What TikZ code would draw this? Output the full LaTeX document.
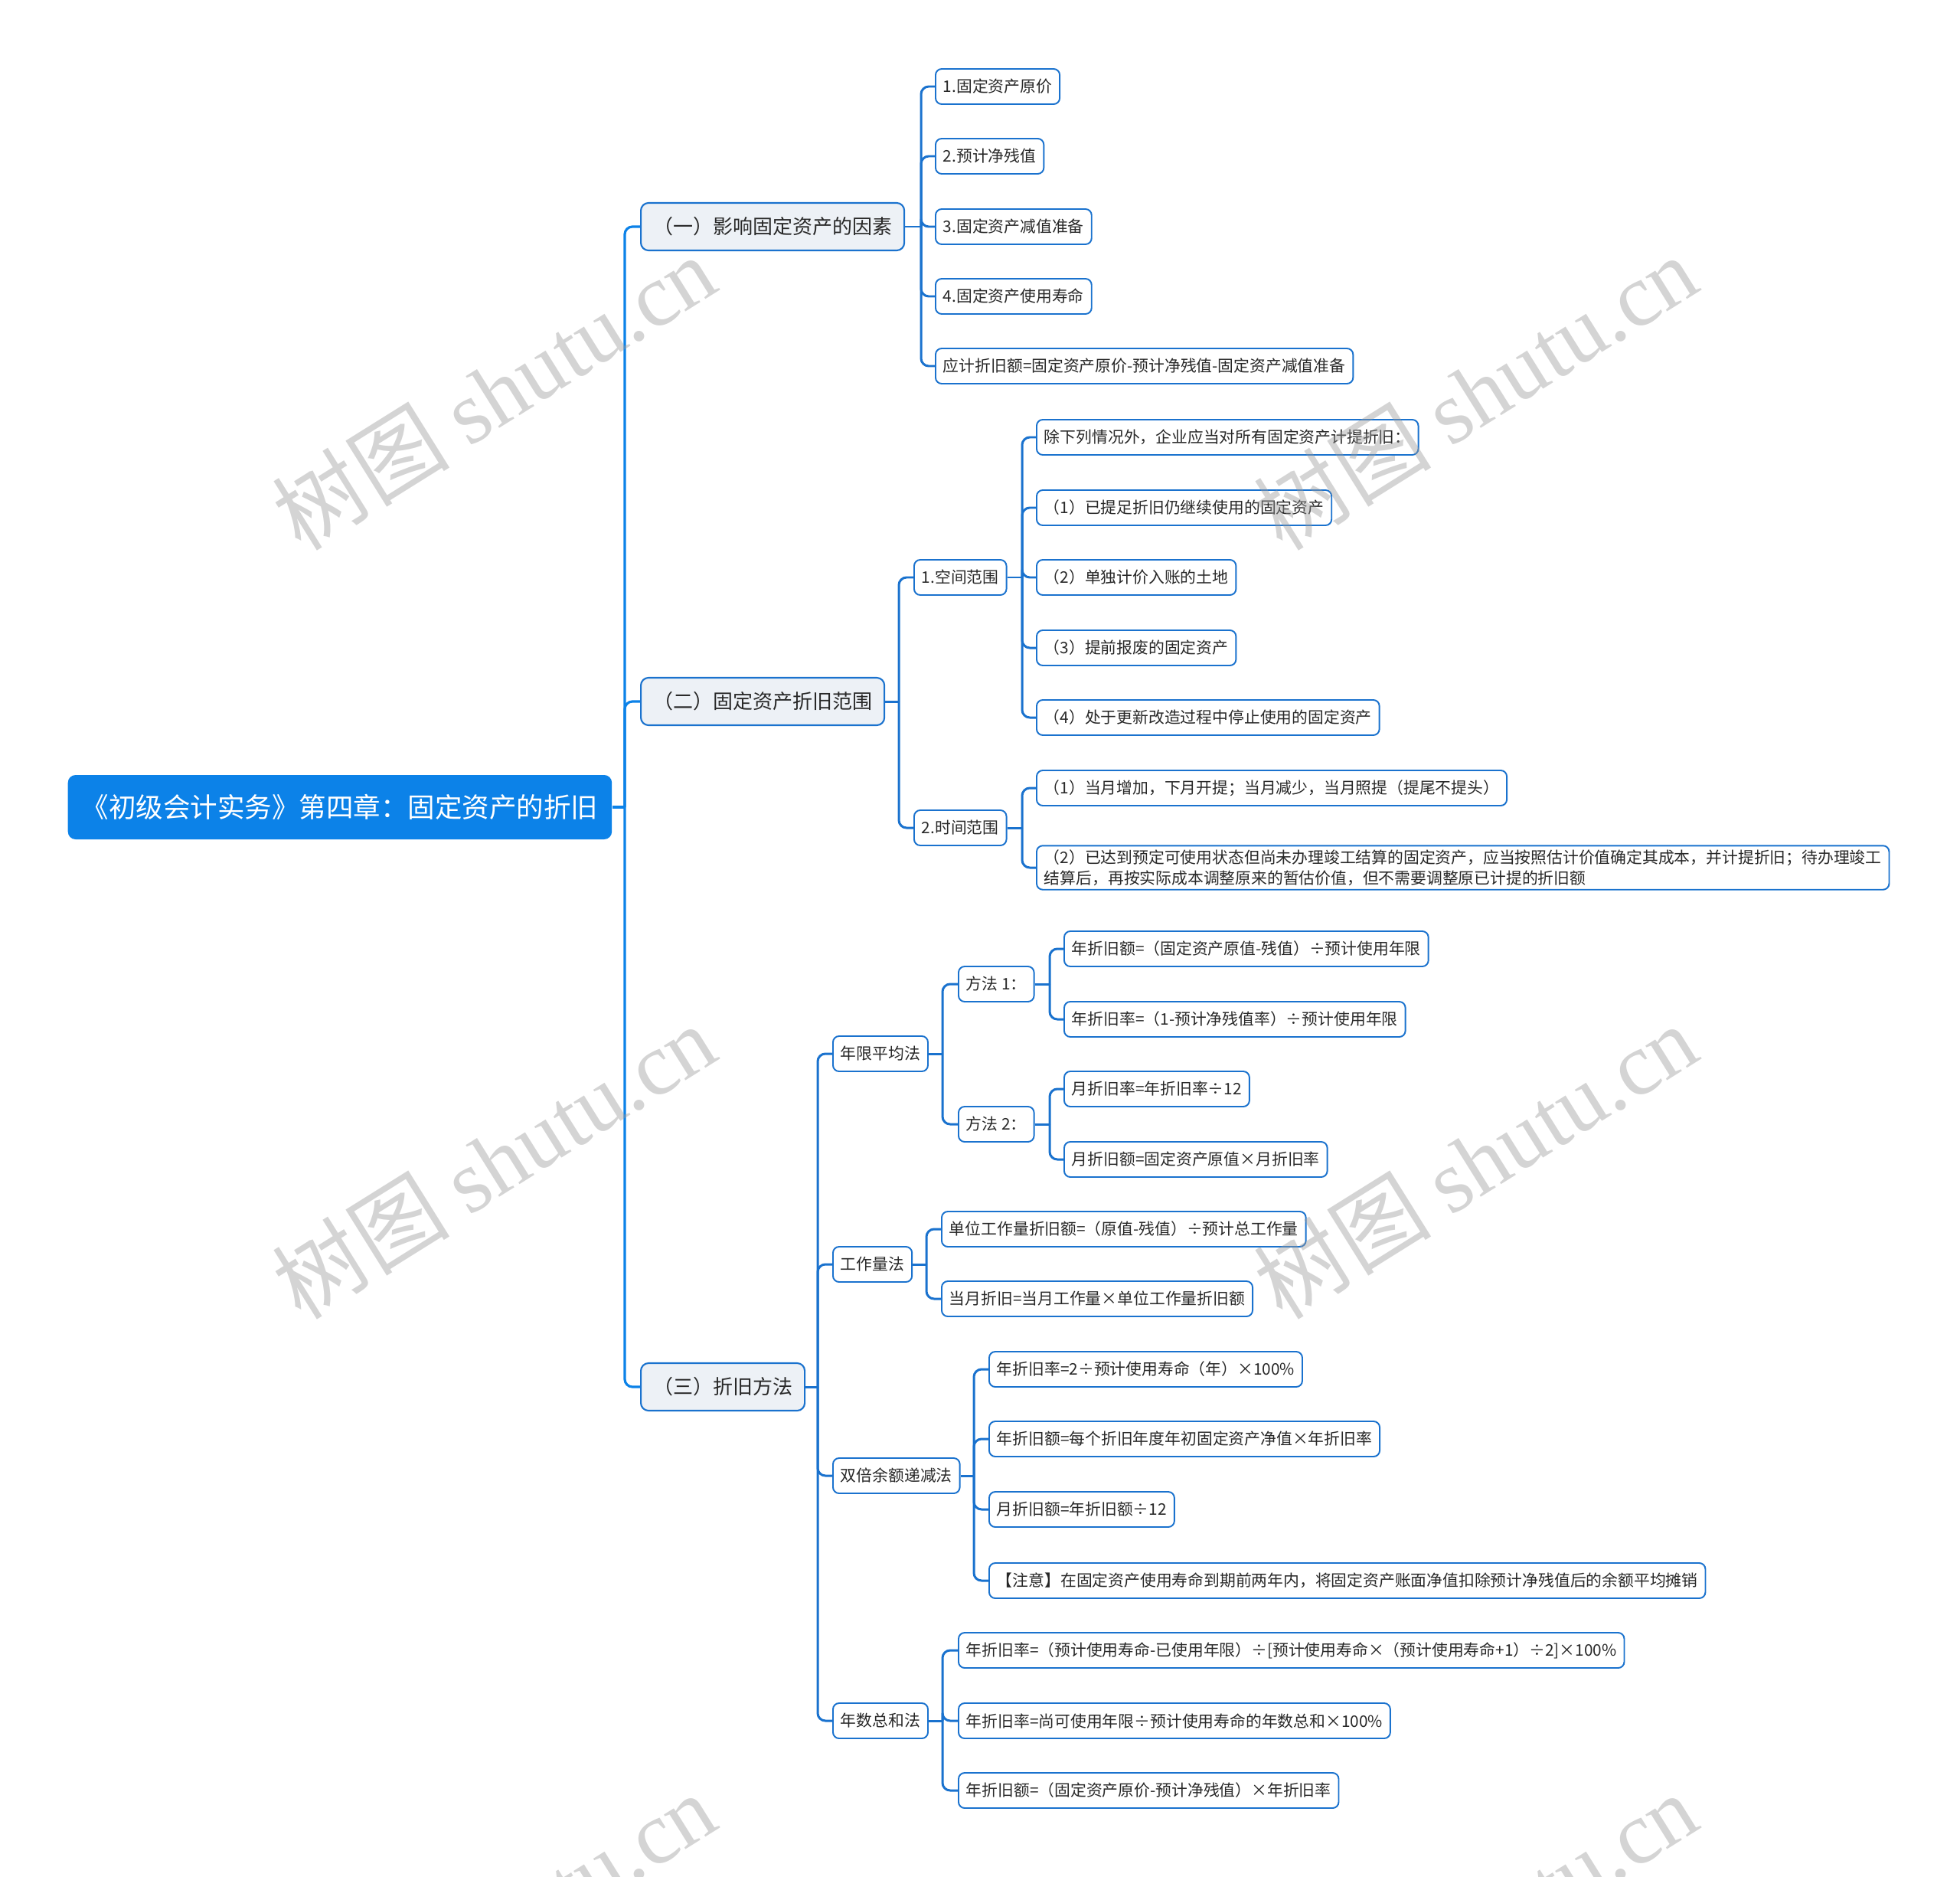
\documentclass[tikz,border=0pt]{standalone}
\usepackage{fontspec}
\setmainfont{Noto Sans CJK SC}
\newfontfamily\wmfont{Liberation Serif}
\usetikzlibrary{calc}

\definecolor{rootblue}{RGB}{12,130,232}
\definecolor{lineblue}{RGB}{26,114,206}
\definecolor{topicgray}{RGB}{237,241,246}
\definecolor{inkgray}{RGB}{40,40,40}

\tikzset{
  rootbox/.style={anchor=west,fill=rootblue,text=white,rounded corners=0.1cm,
    minimum height=0.84cm,inner xsep=0.18cm,inner ysep=0pt,
    font=\fontsize{10.1}{12}\selectfont},
  topic/.style={anchor=west,draw=lineblue,line width=0.6pt,fill=topicgray,
    text=inkgray,rounded corners=0.1cm,minimum height=0.62cm,
    inner xsep=0.16cm,inner ysep=0pt,font=\fontsize{7.4}{9}\selectfont},
  leaf/.style={anchor=west,draw=lineblue,line width=0.55pt,fill=white,
    text=inkgray,rounded corners=0.08cm,minimum height=0.46cm,
    inner xsep=0.1cm,inner ysep=0.05cm,font=\fontsize{5.92}{7.8}\selectfont},
  trunk/.style={draw=rootblue,line width=0.9pt,rounded corners=0.1cm},
  link/.style={draw=lineblue,line width=0.85pt,rounded corners=0.1cm},
  wmark/.style={rotate=32,text=black!40,opacity=0.42,
    font=\fontsize{33}{38}\selectfont},
}

\begin{document}
\begin{tikzpicture}
  \useasboundingbox (0,0) rectangle (25.6,-24.51);
  \fill[white] (0,0) rectangle (25.6,-24.51);

  % root and main branches
  \node[rootbox] (root) at (0.88,-10.54) {《初级会计实务》第四章：固定资产的折旧};
  \node[topic] (yinsu)  at (8.36,-2.96)  {（一）影响固定资产的因素};
  \node[topic] (fanwei) at (8.36,-9.16)  {（二）固定资产折旧范围};
  \node[topic] (fangfa) at (8.36,-18.11) {（三）折旧方法};
  \coordinate (jR) at (8.16,-10.54);
  \draw[trunk] (root.east) -- (jR);
  \foreach \n in {yinsu,fanwei,fangfa} \draw[trunk] (jR) |- (\n.west);

  % (一) factors
  \node[leaf] (ys1) at (12.21,-1.13) {1.固定资产原价};
  \node[leaf] (ys2) at (12.21,-2.04) {2.预计净残值};
  \node[leaf] (ys3) at (12.21,-2.96) {3.固定资产减值准备};
  \node[leaf] (ys4) at (12.21,-3.87) {4.固定资产使用寿命};
  \node[leaf] (ys5) at (12.21,-4.78) {应计折旧额=固定资产原价-预计净残值-固定资产减值准备};
  \coordinate (jY) at (12.03,-2.96);
  \draw[link] (yinsu.east) -- (jY);
  \foreach \n in {ys1,ys2,ys3,ys4,ys5} \draw[link] (jY) |- (\n.west);

  % (二) scope
  \node[leaf] (kongjian) at (11.93,-7.54)  {1.空间范围};
  \node[leaf] (shijian)  at (11.93,-10.81) {2.时间范围};
  \coordinate (jF) at (11.74,-9.16);
  \draw[link] (fanwei.east) -- (jF);
  \foreach \n in {kongjian,shijian} \draw[link] (jF) |- (\n.west);

  \node[leaf] (kj1) at (13.53,-5.71) {除下列情况外，企业应当对所有固定资产计提折旧：};
  \node[leaf] (kj2) at (13.53,-6.63) {（1）已提足折旧仍继续使用的固定资产};
  \node[leaf] (kj3) at (13.53,-7.54) {（2）单独计价入账的土地};
  \node[leaf] (kj4) at (13.53,-8.46) {（3）提前报废的固定资产};
  \node[leaf] (kj5) at (13.53,-9.37) {（4）处于更新改造过程中停止使用的固定资产};
  \coordinate (jK) at (13.35,-7.54);
  \draw[link] (kongjian.east) -- (jK);
  \foreach \n in {kj1,kj2,kj3,kj4,kj5} \draw[link] (jK) |- (\n.west);

  \node[leaf] (sj1) at (13.53,-10.29) {（1）当月增加，下月开提；当月减少，当月照提（提尾不提头）};
  \node[leaf,align=left] (sj2) at (13.53,-11.33)
    {（2）已达到预定可使用状态但尚未办理竣工结算的固定资产，应当按照估计价值确定其成本，并计提折旧；待办理竣工\\
     结算后，再按实际成本调整原来的暂估价值，但不需要调整原已计提的折旧额};
  \coordinate (jS) at (13.35,-10.81);
  \draw[link] (shijian.east) -- (jS);
  \foreach \n in {sj1,sj2} \draw[link] (jS) |- (\n.west);

  % (三) methods
  \node[leaf] (nianxian)  at (10.87,-13.76) {年限平均法};
  \node[leaf] (gongzuo)   at (10.87,-16.51) {工作量法};
  \node[leaf] (shuangbei) at (10.87,-19.27) {双倍余额递减法};
  \node[leaf] (nianshu)   at (10.87,-22.47) {年数总和法};
  \coordinate (jM) at (10.68,-18.11);
  \draw[link] (fangfa.east) -- (jM);
  \foreach \n in {nianxian,gongzuo,shuangbei,nianshu} \draw[link] (jM) |- (\n.west);

  % straight-line method
  \node[leaf] (ff1) at (12.51,-12.85) {方法 1：};
  \node[leaf] (ff2) at (12.51,-14.68) {方法 2：};
  \coordinate (jN) at (12.31,-13.76);
  \draw[link] (nianxian.east) -- (jN);
  \foreach \n in {ff1,ff2} \draw[link] (jN) |- (\n.west);

  \node[leaf] (ff1a) at (13.89,-12.39) {年折旧额=（固定资产原值-残值）÷预计使用年限};
  \node[leaf] (ff1b) at (13.89,-13.31) {年折旧率=（1-预计净残值率）÷预计使用年限};
  \coordinate (jA) at (13.71,-12.85);
  \draw[link] (ff1.east) -- (jA);
  \foreach \n in {ff1a,ff1b} \draw[link] (jA) |- (\n.west);

  \node[leaf] (ff2a) at (13.89,-14.22) {月折旧率=年折旧率÷12};
  \node[leaf] (ff2b) at (13.89,-15.14) {月折旧额=固定资产原值×月折旧率};
  \coordinate (jB) at (13.71,-14.68);
  \draw[link] (ff2.east) -- (jB);
  \foreach \n in {ff2a,ff2b} \draw[link] (jB) |- (\n.west);

  % units-of-production
  \node[leaf] (gz1) at (12.29,-16.05) {单位工作量折旧额=（原值-残值）÷预计总工作量};
  \node[leaf] (gz2) at (12.29,-16.96) {当月折旧=当月工作量×单位工作量折旧额};
  \coordinate (jG) at (12.10,-16.51);
  \draw[link] (gongzuo.east) -- (jG);
  \foreach \n in {gz1,gz2} \draw[link] (jG) |- (\n.west);

  % double-declining balance
  \node[leaf] (sb1) at (12.91,-17.88) {年折旧率=2÷预计使用寿命（年）×100\%};
  \node[leaf] (sb2) at (12.91,-18.79) {年折旧额=每个折旧年度年初固定资产净值×年折旧率};
  \node[leaf] (sb3) at (12.91,-19.71) {月折旧额=年折旧额÷12};
  \node[leaf] (sb4) at (12.91,-20.64) {【注意】在固定资产使用寿命到期前两年内，将固定资产账面净值扣除预计净残值后的余额平均摊销};
  \coordinate (jD) at (12.72,-19.27);
  \draw[link] (shuangbei.east) -- (jD);
  \foreach \n in {sb1,sb2,sb3,sb4} \draw[link] (jD) |- (\n.west);

  % sum-of-years-digits
  \node[leaf] (ns1) at (12.51,-21.55) {年折旧率=（预计使用寿命-已使用年限）÷[预计使用寿命×（预计使用寿命+1）÷2]×100\%};
  \node[leaf] (ns2) at (12.51,-22.47) {年折旧率=尚可使用年限÷预计使用寿命的年数总和×100\%};
  \node[leaf] (ns3) at (12.51,-23.38) {年折旧额=（固定资产原价-预计净残值）×年折旧率};
  \coordinate (jT) at (12.31,-22.47);
  \draw[link] (nianshu.east) -- (jT);
  \foreach \n in {ns1,ns2,ns3} \draw[link] (jT) |- (\n.west);

  % watermarks
  \begin{scope}
    \clip (0,0) rectangle (25.6,-24.51);
    \foreach \x in {6.45,19.27}
      \foreach \y in {-5.12,-15.16,-25.20}
        \node[wmark] (wm) at (\x,\y) {树图 {\wmfont shutu.cn}};
  \end{scope}
\end{tikzpicture}
\end{document}
